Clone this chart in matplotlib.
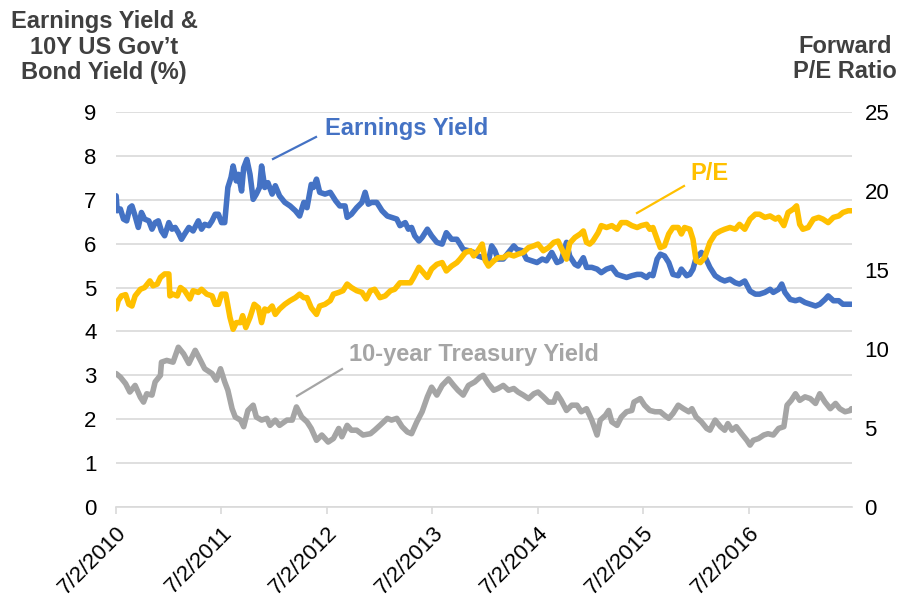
import matplotlib
matplotlib.use("Agg")
import matplotlib.pyplot as plt
from matplotlib.lines import Line2D
import matplotlib.transforms as mtransforms
import datetime as dt

plt.rcParams['font.family'] = ['Liberation Sans', 'DejaVu Sans']

# ---------------- data (decimal years) ----------------
ey_t = [2010.50, 2010.51, 2010.54, 2010.57, 2010.60, 2010.63, 2010.65, 2010.68, 2010.71, 2010.74,
        2010.77, 2010.81, 2010.84, 2010.87, 2010.90, 2010.93, 2010.96, 2011.00, 2011.03, 2011.06,
        2011.09, 2011.12, 2011.15, 2011.19, 2011.23, 2011.28, 2011.31, 2011.34, 2011.38, 2011.41,
        2011.44, 2011.47, 2011.50, 2011.53, 2011.56, 2011.59, 2011.61, 2011.64, 2011.66, 2011.69,
        2011.71, 2011.74, 2011.77, 2011.80, 2011.83, 2011.86, 2011.88, 2011.91, 2011.94, 2011.98,
        2012.01, 2012.05, 2012.10, 2012.15, 2012.20, 2012.24, 2012.28, 2012.31, 2012.35, 2012.37,
        2012.40, 2012.43, 2012.48, 2012.53, 2012.58, 2012.62, 2012.67, 2012.69, 2012.73, 2012.78,
        2012.83, 2012.86, 2012.89, 2012.92, 2012.97, 2013.02, 2013.07, 2013.11, 2013.16, 2013.19,
        2013.24, 2013.27, 2013.30, 2013.33, 2013.37, 2013.40, 2013.45, 2013.49, 2013.54, 2013.59,
        2013.63, 2013.68, 2013.73, 2013.76, 2013.79, 2013.84, 2013.89, 2013.93, 2013.98, 2014.03,
        2014.06, 2014.09, 2014.12, 2014.17, 2014.22, 2014.27, 2014.30, 2014.35, 2014.39, 2014.44,
        2014.49, 2014.54, 2014.58, 2014.63, 2014.68, 2014.72, 2014.77, 2014.80, 2014.85, 2014.88,
        2014.93, 2014.96, 2015.01, 2015.06, 2015.10, 2015.15, 2015.20, 2015.25, 2015.29, 2015.34,
        2015.39, 2015.44, 2015.48, 2015.53, 2015.56, 2015.59, 2015.63, 2015.66, 2015.70, 2015.74,
        2015.78, 2015.83, 2015.86, 2015.91, 2015.94, 2015.97, 2016.00, 2016.05, 2016.08, 2016.13,
        2016.18, 2016.23, 2016.27, 2016.32, 2016.37, 2016.41, 2016.46, 2016.51, 2016.56, 2016.60,
        2016.65, 2016.70, 2016.73, 2016.78, 2016.81, 2016.84, 2016.89, 2016.94, 2016.98, 2017.03,
        2017.08, 2017.13, 2017.17, 2017.22, 2017.25, 2017.30, 2017.35, 2017.39, 2017.44, 2017.47]
earnings_yield = [7.09, 6.75, 6.79, 6.56, 6.52, 6.82, 6.86, 6.63, 6.37, 6.71,
                  6.56, 6.52, 6.33, 6.48, 6.52, 6.29, 6.18, 6.48, 6.33, 6.37,
                  6.25, 6.10, 6.22, 6.37, 6.29, 6.52, 6.33, 6.44, 6.41, 6.52,
                  6.67, 6.67, 6.48, 6.48, 7.28, 7.51, 7.77, 7.43, 7.58, 7.20,
                  7.73, 7.92, 7.58, 7.01, 7.13, 7.28, 7.77, 7.28, 7.39, 7.13,
                  7.32, 7.09, 6.94, 6.86, 6.75, 6.63, 6.94, 6.82, 7.35, 7.28,
                  7.47, 7.17, 7.13, 7.17, 6.98, 6.86, 6.86, 6.60, 6.67, 6.82,
                  6.94, 7.17, 6.90, 6.94, 6.94, 6.75, 6.63, 6.60, 6.56, 6.41,
                  6.48, 6.33, 6.37, 6.18, 6.06, 6.14, 6.33, 6.18, 6.03, 5.99,
                  6.25, 6.10, 6.10, 5.99, 5.87, 5.84, 5.80, 5.72, 5.68, 5.61,
                  5.95, 5.84, 5.65, 5.65, 5.80, 5.95, 5.87, 5.84, 5.65, 5.61,
                  5.57, 5.65, 5.61, 5.80, 5.57, 5.61, 6.03, 5.72, 5.53, 5.49,
                  5.68, 5.46, 5.46, 5.42, 5.34, 5.42, 5.46, 5.30, 5.27, 5.23,
                  5.27, 5.30, 5.30, 5.23, 5.30, 5.27, 5.65, 5.76, 5.72, 5.57,
                  5.30, 5.27, 5.42, 5.27, 5.30, 5.42, 5.68, 5.80, 5.72, 5.46,
                  5.27, 5.19, 5.15, 5.19, 5.11, 5.08, 5.15, 4.92, 4.85, 4.85,
                  4.89, 4.96, 4.89, 4.96, 5.08, 4.89, 4.73, 4.70, 4.73, 4.66,
                  4.62, 4.58, 4.62, 4.73, 4.81, 4.70, 4.70, 4.62, 4.62, 4.62]

pe_t = [2010.50, 2010.52, 2010.55, 2010.59, 2010.62, 2010.65, 2010.68, 2010.73, 2010.77, 2010.82,
        2010.85, 2010.89, 2010.92, 2010.96, 2011.00, 2011.01, 2011.04, 2011.08, 2011.11, 2011.15,
        2011.20, 2011.23, 2011.28, 2011.31, 2011.36, 2011.41, 2011.44, 2011.47, 2011.50, 2011.54,
        2011.58, 2011.61, 2011.64, 2011.68, 2011.70, 2011.73, 2011.77, 2011.81, 2011.85, 2011.88,
        2011.91, 2011.94, 2011.98, 2012.01, 2012.05, 2012.10, 2012.15, 2012.20, 2012.24, 2012.28,
        2012.31, 2012.35, 2012.40, 2012.43, 2012.48, 2012.53, 2012.56, 2012.61, 2012.65, 2012.69,
        2012.73, 2012.78, 2012.83, 2012.87, 2012.91, 2012.95, 2013.00, 2013.05, 2013.10, 2013.14,
        2013.19, 2013.24, 2013.29, 2013.32, 2013.37, 2013.45, 2013.49, 2013.54, 2013.59, 2013.63,
        2013.68, 2013.73, 2013.76, 2013.81, 2013.86, 2013.89, 2013.93, 2013.97, 2014.00, 2014.03,
        2014.08, 2014.12, 2014.17, 2014.22, 2014.27, 2014.31, 2014.36, 2014.41, 2014.46, 2014.50,
        2014.55, 2014.60, 2014.65, 2014.69, 2014.74, 2014.77, 2014.80, 2014.85, 2014.90, 2014.93,
        2014.96, 2014.99, 2015.02, 2015.07, 2015.10, 2015.15, 2015.20, 2015.25, 2015.29, 2015.34,
        2015.39, 2015.44, 2015.48, 2015.53, 2015.56, 2015.59, 2015.63, 2015.66, 2015.70, 2015.74,
        2015.78, 2015.83, 2015.86, 2015.89, 2015.94, 2015.97, 2016.00, 2016.04, 2016.08, 2016.13,
        2016.18, 2016.23, 2016.27, 2016.32, 2016.37, 2016.41, 2016.46, 2016.51, 2016.56, 2016.60,
        2016.65, 2016.70, 2016.75, 2016.78, 2016.83, 2016.87, 2016.92, 2016.95, 2016.98, 2017.01,
        2017.06, 2017.11, 2017.16, 2017.20, 2017.25, 2017.30, 2017.35, 2017.39, 2017.44, 2017.47]
forward_pe = [12.53, 13.06, 13.36, 13.44, 12.83, 12.72, 13.36, 13.78, 13.89, 14.31,
              14.00, 14.11, 14.53, 14.75, 14.75, 13.36, 13.47, 13.36, 13.89, 13.69,
              13.17, 13.69, 13.58, 13.78, 13.47, 13.36, 12.83, 12.83, 13.47, 13.47,
              12.00, 11.25, 11.67, 11.67, 12.11, 11.36, 12.00, 12.83, 12.61, 11.67,
              12.53, 12.42, 12.72, 12.19, 12.53, 12.83, 13.06, 13.25, 13.47, 13.25,
              13.25, 12.61, 12.19, 12.72, 12.83, 13.06, 13.47, 13.58, 13.69, 14.11,
              13.89, 13.69, 13.58, 13.17, 13.69, 13.78, 13.25, 13.36, 13.69, 13.78,
              14.19, 14.19, 14.19, 14.53, 15.17, 14.53, 15.06, 15.36, 15.47, 14.94,
              15.25, 15.47, 15.69, 16.11, 16.22, 15.89, 16.22, 16.64, 15.58, 15.25,
              15.58, 15.78, 15.78, 16.00, 15.89, 16.00, 16.11, 16.42, 16.53, 16.64,
              16.22, 16.42, 16.75, 16.83, 16.11, 15.69, 16.69, 17.06, 17.28, 17.47,
              16.75, 16.64, 16.83, 17.36, 17.81, 17.69, 17.81, 17.58, 18.00, 18.00,
              17.81, 17.69, 17.81, 17.89, 17.58, 17.69, 16.94, 16.42, 16.53, 17.28,
              17.69, 17.69, 17.28, 17.69, 17.58, 16.94, 15.58, 15.47, 15.78, 16.75,
              17.28, 17.47, 17.58, 17.69, 17.58, 17.89, 17.58, 18.22, 18.53, 18.53,
              18.33, 18.42, 18.22, 18.33, 17.81, 18.64, 18.86, 19.06, 17.89, 17.58,
              17.69, 18.22, 18.33, 18.22, 18.00, 18.33, 18.42, 18.64, 18.75, 18.75]

ty_t = [2010.50, 2010.54, 2010.59, 2010.63, 2010.68, 2010.73, 2010.76, 2010.79, 2010.84, 2010.87,
        2010.92, 2010.93, 2010.98, 2011.04, 2011.09, 2011.14, 2011.19, 2011.25, 2011.30, 2011.34,
        2011.41, 2011.45, 2011.49, 2011.53, 2011.56, 2011.60, 2011.63, 2011.68, 2011.71, 2011.75,
        2011.80, 2011.83, 2011.88, 2011.93, 2011.96, 2012.01, 2012.05, 2012.12, 2012.17, 2012.21,
        2012.26, 2012.31, 2012.35, 2012.40, 2012.45, 2012.51, 2012.56, 2012.61, 2012.64, 2012.69,
        2012.73, 2012.78, 2012.84, 2012.91, 2012.95, 2013.00, 2013.07, 2013.11, 2013.16, 2013.21,
        2013.26, 2013.30, 2013.35, 2013.40, 2013.45, 2013.49, 2013.54, 2013.59, 2013.65, 2013.70,
        2013.74, 2013.79, 2013.84, 2013.90, 2013.95, 2013.98, 2014.03, 2014.08, 2014.12, 2014.17,
        2014.22, 2014.27, 2014.31, 2014.36, 2014.41, 2014.46, 2014.50, 2014.55, 2014.60, 2014.65,
        2014.68, 2014.72, 2014.77, 2014.82, 2014.87, 2014.91, 2014.96, 2015.01, 2015.06, 2015.09,
        2015.14, 2015.17, 2015.20, 2015.25, 2015.29, 2015.34, 2015.39, 2015.41, 2015.47, 2015.51,
        2015.56, 2015.61, 2015.66, 2015.70, 2015.74, 2015.78, 2015.83, 2015.88, 2015.93, 2015.96,
        2016.00, 2016.05, 2016.10, 2016.13, 2016.18, 2016.23, 2016.27, 2016.30, 2016.34, 2016.38,
        2016.43, 2016.48, 2016.51, 2016.54, 2016.59, 2016.64, 2016.68, 2016.73, 2016.78, 2016.83,
        2016.86, 2016.90, 2016.94, 2016.98, 2017.03, 2017.08, 2017.13, 2017.17, 2017.22, 2017.27,
        2017.32, 2017.36, 2017.41, 2017.46, 2017.47]
treasury_yield = [3.04, 2.96, 2.81, 2.62, 2.77, 2.50, 2.39, 2.58, 2.55, 2.85,
                  3.00, 3.30, 3.34, 3.30, 3.64, 3.49, 3.27, 3.57, 3.34, 3.15,
                  3.04, 2.89, 3.15, 2.85, 2.66, 2.24, 2.05, 1.98, 1.83, 2.20,
                  2.32, 2.05, 1.98, 2.02, 1.86, 1.98, 1.86, 1.98, 1.98, 2.28,
                  2.05, 1.94, 1.79, 1.52, 1.64, 1.48, 1.56, 1.79, 1.60, 1.86,
                  1.75, 1.75, 1.64, 1.67, 1.75, 1.86, 2.02, 1.98, 2.02, 1.83,
                  1.71, 1.67, 1.94, 2.17, 2.51, 2.73, 2.55, 2.77, 2.92, 2.77,
                  2.66, 2.55, 2.77, 2.85, 2.96, 3.00, 2.81, 2.66, 2.70, 2.77,
                  2.66, 2.70, 2.62, 2.55, 2.47, 2.58, 2.62, 2.51, 2.39, 2.39,
                  2.58, 2.43, 2.20, 2.32, 2.32, 2.17, 2.24, 1.98, 1.64, 1.98,
                  2.09, 2.20, 1.94, 1.86, 2.05, 2.17, 2.20, 2.39, 2.47, 2.32,
                  2.20, 2.17, 2.17, 2.09, 2.02, 2.13, 2.32, 2.24, 2.17, 2.24,
                  2.05, 1.94, 1.79, 1.75, 1.98, 1.83, 1.75, 1.90, 1.75, 1.83,
                  1.67, 1.52, 1.41, 1.52, 1.56, 1.64, 1.67, 1.64, 1.79, 1.83,
                  2.32, 2.43, 2.58, 2.43, 2.51, 2.47, 2.36, 2.58, 2.39, 2.24,
                  2.36, 2.24, 2.17, 2.20, 2.24]

tick_years = [2010, 2011, 2012, 2013, 2014, 2015, 2016]
left_ticks = [0, 1, 2, 3, 4, 5, 6, 7, 8, 9]
right_ticks = [0, 5, 10, 15, 20, 25]


def to_date(y):
    year = int(y)
    start = dt.datetime(year, 1, 1)
    length = (dt.datetime(year + 1, 1, 1) - start).days
    return start + dt.timedelta(days=(y - year) * length)


BLUE = '#4472C4'
GOLD = '#FFC000'
GRAY = '#A5A5A5'
GRID = '#D9D9D9'
TXT = '#404040'
W, H = 902, 605
LW = 4.0

fig = plt.figure(figsize=(W / 100, H / 100), dpi=100)
ax = fig.add_axes([116 / W, 1 - 507 / H, (852 - 116) / W, (507 - 112) / H])
ax2 = ax.twinx()

ax.plot([to_date(t) for t in ey_t], earnings_yield, color=BLUE, lw=LW,
        solid_joinstyle='round', solid_capstyle='round', zorder=3)
ax.plot([to_date(t) for t in ty_t], treasury_yield, color=GRAY, lw=LW,
        solid_joinstyle='round', solid_capstyle='round', zorder=3)
ax2.plot([to_date(t) for t in pe_t], forward_pe, color=GOLD, lw=LW,
         solid_joinstyle='round', solid_capstyle='round', zorder=3)

ax.set_ylim(0, 9)
ax2.set_ylim(0, 25)
ax.set_yticks(left_ticks)
ax2.set_yticks(right_ticks)
ax.set_xlim(dt.datetime(2010, 7, 2), to_date(2017.476))

ticks = [dt.datetime(y, 7, 2) for y in tick_years]
ax.set_xticks(ticks)
ax.set_xticklabels([f"{d.month}/{d.day}/{d.year}" for d in ticks], rotation=45,
                   ha='right', va='top', rotation_mode='anchor')
shift = mtransforms.ScaledTranslation(4 / 100, -2 / 100, fig.dpi_scale_trans)
for lab in ax.get_xticklabels():
    lab.set_transform(lab.get_transform() + shift)

for a in (ax, ax2):
    for s in a.spines.values():
        s.set_visible(False)
ax.spines['bottom'].set_visible(True)
ax.spines['bottom'].set_color(GRID)
ax.spines['bottom'].set_linewidth(1.2)

ax.grid(axis='y', color=GRID, lw=1.2)
ax.set_axisbelow(True)
ax.tick_params(axis='y', length=0, pad=14, labelsize=16, labelcolor='black')
ax2.tick_params(axis='y', length=0, pad=9, labelsize=16, labelcolor='black')
ax.tick_params(axis='x', length=5, width=1.2, color=GRID, pad=6, labelsize=16, labelcolor='black')

# axis titles
fig.text(104 / W, 1 - 47 / H, "Earnings Yield &\n10Y US Gov\u2019t\nBond Yield (%)", ha='center', va='center',
         fontsize=17, fontweight='bold', color=TXT, linespacing=1.15)
fig.text(845 / W, 1 - 59 / H, "Forward\nP/E Ratio", ha='center', va='center',
         fontsize=17, fontweight='bold', color=TXT, linespacing=1.15)


# series labels with leader lines
def px(x, y):
    return x / W, 1 - y / H


def leader(x1, y1, x2, y2, color):
    (a, b), (c, d) = px(x1, y1), px(x2, y2)
    fig.add_artist(Line2D([a, c], [b, d], transform=fig.transFigure, color=color, lw=1.6))


leader(273, 159, 316, 137, BLUE)
fig.text(*px(325, 128), "Earnings Yield", ha='left', va='center', fontsize=17, fontweight='bold', color=BLUE)
leader(637, 213, 684, 186, GOLD)
fig.text(*px(690, 173), "P/E", ha='left', va='center', fontsize=17, fontweight='bold', color=GOLD)
leader(297, 396, 342, 369, GRAY)
fig.text(*px(349, 355), "10-year Treasury Yield", ha='left', va='center', fontsize=17, fontweight='bold', color=GRAY)

fig.savefig('out.png', dpi=100)
